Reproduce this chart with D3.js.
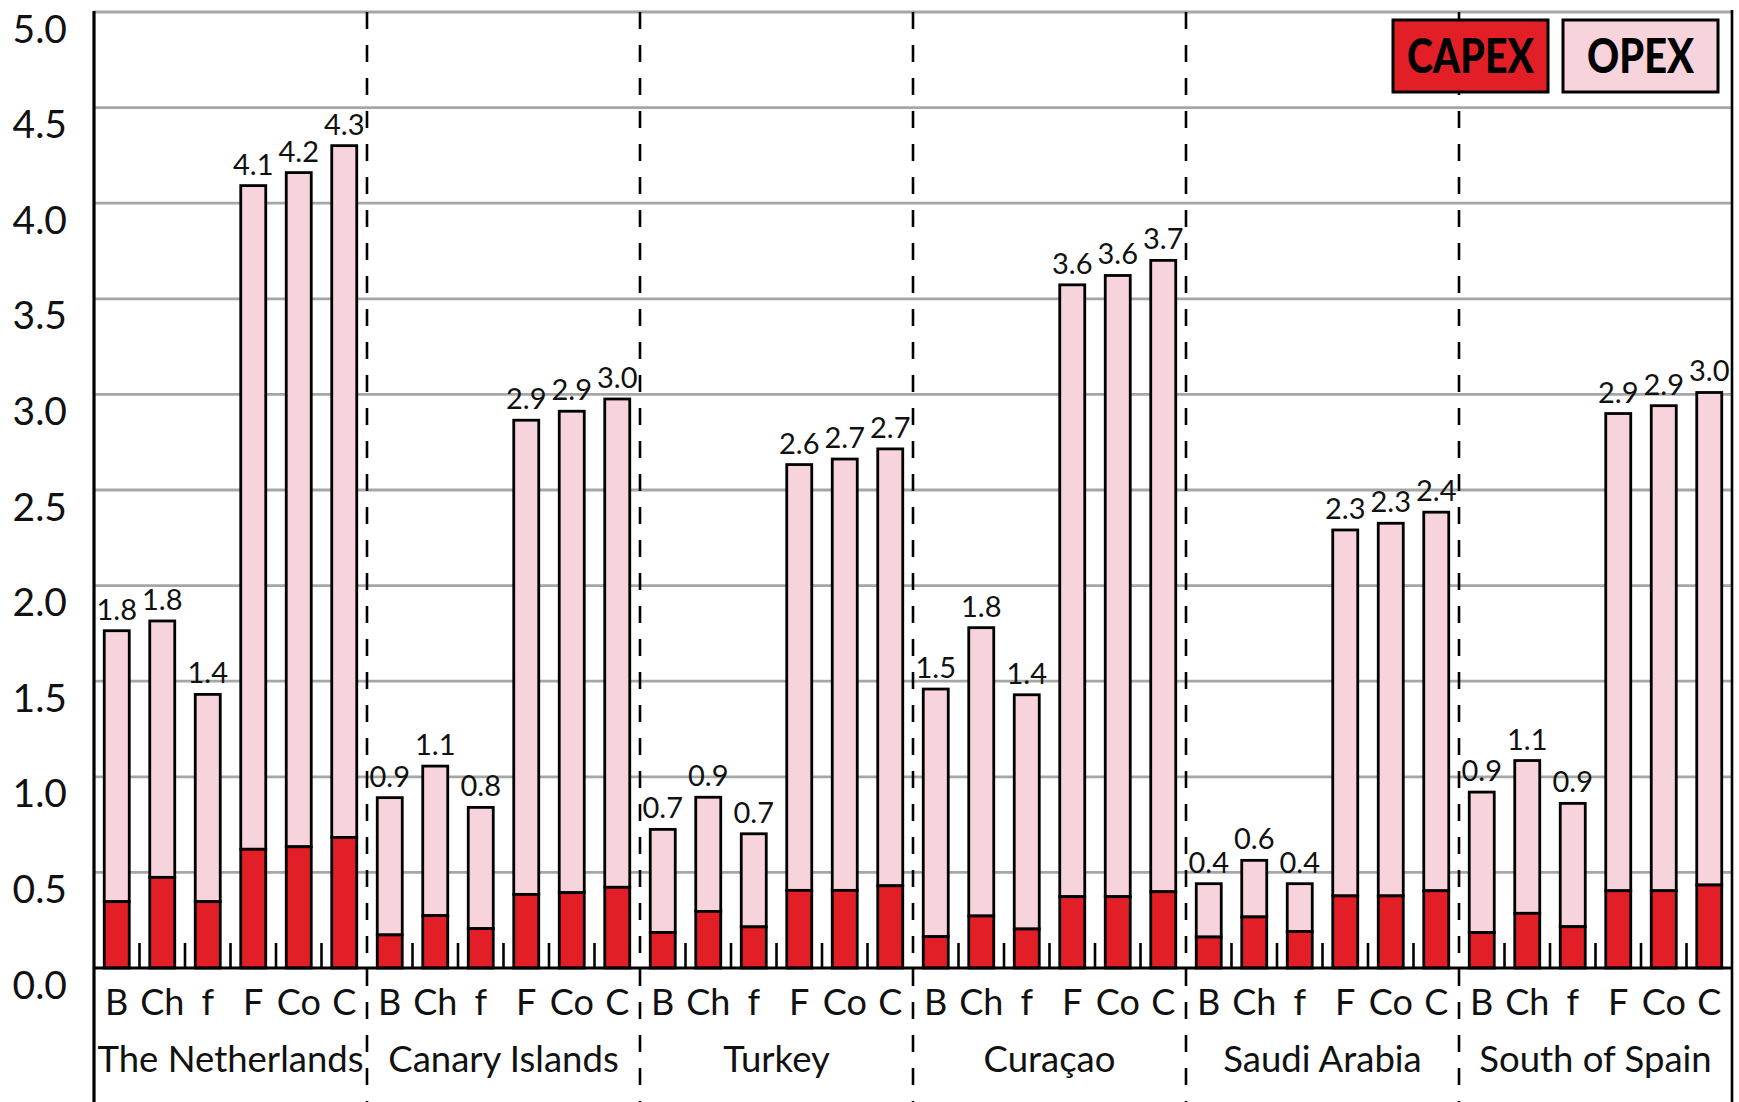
<!DOCTYPE html>
<html>
<head>
<meta charset="utf-8">
<script src="https://cdn.jsdelivr.net/npm/d3@7"></script>
<style>
  html, body { margin: 0; padding: 0; background: #fff; }
  svg { display: block; font-family: "Lato", "Open Sans", sans-serif; }
</style>
</head>
<body>
<svg id="chart" width="1739" height="1102"></svg>
<script>
// Sites and technologies
const groups = ["The Netherlands", "Canary Islands", "Turkey", "Curaçao", "Saudi Arabia", "South of Spain"];
const techs = ["B", "Ch", "f", "F", "Co", "C"];

// Capital expenditure share, one row per site (order of techs)
const capex = [
  [0.347, 0.474, 0.347, 0.621, 0.634, 0.683],
  [0.173, 0.274, 0.206, 0.385, 0.394, 0.422],
  [0.186, 0.296, 0.215, 0.406, 0.406, 0.430],
  [0.164, 0.272, 0.204, 0.373, 0.373, 0.399],
  [0.162, 0.267, 0.191, 0.377, 0.377, 0.404],
  [0.185, 0.286, 0.216, 0.404, 0.404, 0.434]
];

// Operating expenditure share, one row per site (order of techs)
const opex = [
  [1.417, 1.341, 1.084, 3.471, 3.526, 3.618],
  [0.718, 0.782, 0.634, 2.480, 2.518, 2.554],
  [0.539, 0.597, 0.487, 2.227, 2.256, 2.285],
  [1.295, 1.508, 1.225, 3.200, 3.249, 3.302],
  [0.279, 0.296, 0.250, 1.914, 1.949, 1.980],
  [0.735, 0.799, 0.645, 2.496, 2.537, 2.576]
];

const yTicks = [0, 0.5, 1.0, 1.5, 2.0, 2.5, 3.0, 3.5, 4.0, 4.5, 5.0];
const legendItems = ["CAPEX", "OPEX"];

const RED = "#e21f26";
const PINK = "#f7d3dc";

const plotLeft = 94, plotRight = 1732, plotTop = 12, plotBottom = 968;
const svg = d3.select("#chart");

const x0 = d3.scaleBand().domain(groups).range([plotLeft, plotRight]).padding(0);
const x1 = d3.scaleBand().domain(techs).range([0, x0.bandwidth()]).padding(0);
const y = d3.scaleLinear().domain([0, 5]).range([plotBottom, plotTop]);
const barW = 25;
const fmt = d3.format(".1f");

// Horizontal grid
svg.append("g")
  .selectAll("line")
  .data(yTicks.filter(d => d > 0))
  .join("line")
  .attr("x1", plotLeft).attr("x2", plotRight)
  .attr("y1", d => y(d)).attr("y2", d => y(d))
  .attr("stroke", "#a6a6a6")
  .attr("stroke-width", 2.8);

// Dashed separators between sites
svg.append("g")
  .selectAll("line")
  .data(groups.slice(1))
  .join("line")
  .attr("x1", d => x0(d)).attr("x2", d => x0(d))
  .attr("y1", plotTop).attr("y2", 1102)
  .attr("stroke", "#000")
  .attr("stroke-width", 2.6)
  .attr("stroke-dasharray", "17,16");

// Flatten records
const records = [];
groups.forEach((g, gi) => {
  techs.forEach((t, ti) => {
    const c = capex[gi][ti], o = opex[gi][ti];
    records.push({ group: g, tech: t, capex: c, opex: o, total: c + o });
  });
});

const cx = d => x0(d.group) + x1(d.tech) + x1.bandwidth() / 2;

const bars = svg.append("g");
// OPEX segment (stacked on top of CAPEX)
bars.selectAll("rect.opex")
  .data(records)
  .join("rect")
  .attr("class", "opex")
  .attr("x", d => cx(d) - barW / 2)
  .attr("width", barW)
  .attr("y", d => y(d.total))
  .attr("height", d => y(d.capex) - y(d.total))
  .attr("fill", PINK)
  .attr("stroke", "#000")
  .attr("stroke-width", 2.8);
// CAPEX segment
bars.selectAll("rect.capex")
  .data(records)
  .join("rect")
  .attr("class", "capex")
  .attr("x", d => cx(d) - barW / 2)
  .attr("width", barW)
  .attr("y", d => y(d.capex))
  .attr("height", d => y(0) - y(d.capex))
  .attr("fill", RED)
  .attr("stroke", "#000")
  .attr("stroke-width", 2.8);

// Total value labels
svg.append("g")
  .selectAll("text")
  .data(records)
  .join("text")
  .attr("x", d => cx(d))
  .attr("y", d => y(d.total) - 11)
  .attr("text-anchor", "middle")
  .attr("font-size", 29)
  .attr("fill", "#111")
  .text(d => fmt(d.total));

// Small ticks between bars inside each site
const innerTicks = [];
groups.forEach(g => techs.slice(1).forEach(t => innerTicks.push(x0(g) + x1(t))));
svg.append("g")
  .selectAll("line")
  .data(innerTicks)
  .join("line")
  .attr("x1", d => d).attr("x2", d => d)
  .attr("y1", plotBottom).attr("y2", plotBottom - 25)
  .attr("stroke", "#000")
  .attr("stroke-width", 2.6);

// Frame: baseline, left axis line, right border
svg.append("line").attr("x1", plotLeft).attr("x2", plotRight).attr("y1", plotBottom).attr("y2", plotBottom)
  .attr("stroke", "#000").attr("stroke-width", 3);
svg.append("line").attr("x1", plotLeft).attr("x2", plotLeft).attr("y1", plotTop - 1).attr("y2", 1102)
  .attr("stroke", "#000").attr("stroke-width", 3.2);
svg.append("line").attr("x1", plotRight).attr("x2", plotRight).attr("y1", plotTop - 2).attr("y2", 1102)
  .attr("stroke", "#000").attr("stroke-width", 2.6);

// Y axis labels
const yAxis = svg.append("g")
  .attr("transform", `translate(${plotLeft},0)`)
  .call(d3.axisLeft(y).tickValues(yTicks).tickFormat(fmt).tickSize(0).tickPadding(27));
yAxis.select(".domain").remove();
yAxis.selectAll("text")
  .attr("dy", null)
  .attr("y", 30)
  .attr("font-size", 39)
  .attr("font-family", "Lato, 'Open Sans', sans-serif")
  .attr("fill", "#111");

// Technology labels under each bar
svg.append("g")
  .selectAll("text")
  .data(records)
  .join("text")
  .attr("x", d => cx(d))
  .attr("y", 1015)
  .attr("text-anchor", "middle")
  .attr("font-size", 36)
  .attr("fill", "#111")
  .text(d => d.tech);

// Site labels
svg.append("g")
  .selectAll("text")
  .data(groups)
  .join("text")
  .attr("x", d => x0(d) + x0.bandwidth() / 2)
  .attr("y", 1072)
  .attr("text-anchor", "middle")
  .attr("font-size", 36.5)
  .attr("fill", "#111")
  .text(d => d);

// Legend
const legend = svg.append("g");
const legendColors = [RED, PINK];
const legendX = [1393, 1563];
const legendTextW = [127, 107];
legendItems.forEach((name, i) => {
  legend.append("rect")
    .attr("x", legendX[i]).attr("y", 20)
    .attr("width", 155).attr("height", 72)
    .attr("fill", legendColors[i])
    .attr("stroke", "#000").attr("stroke-width", 3);
  legend.append("text")
    .attr("x", legendX[i] + 77.5).attr("y", 73)
    .attr("text-anchor", "middle")
    .attr("font-size", 47)
    .attr("font-weight", 900)
    .attr("textLength", legendTextW[i])
    .attr("lengthAdjust", "spacingAndGlyphs")
    .attr("fill", "#000")
    .text(name);
});
</script>
</body>
</html>
